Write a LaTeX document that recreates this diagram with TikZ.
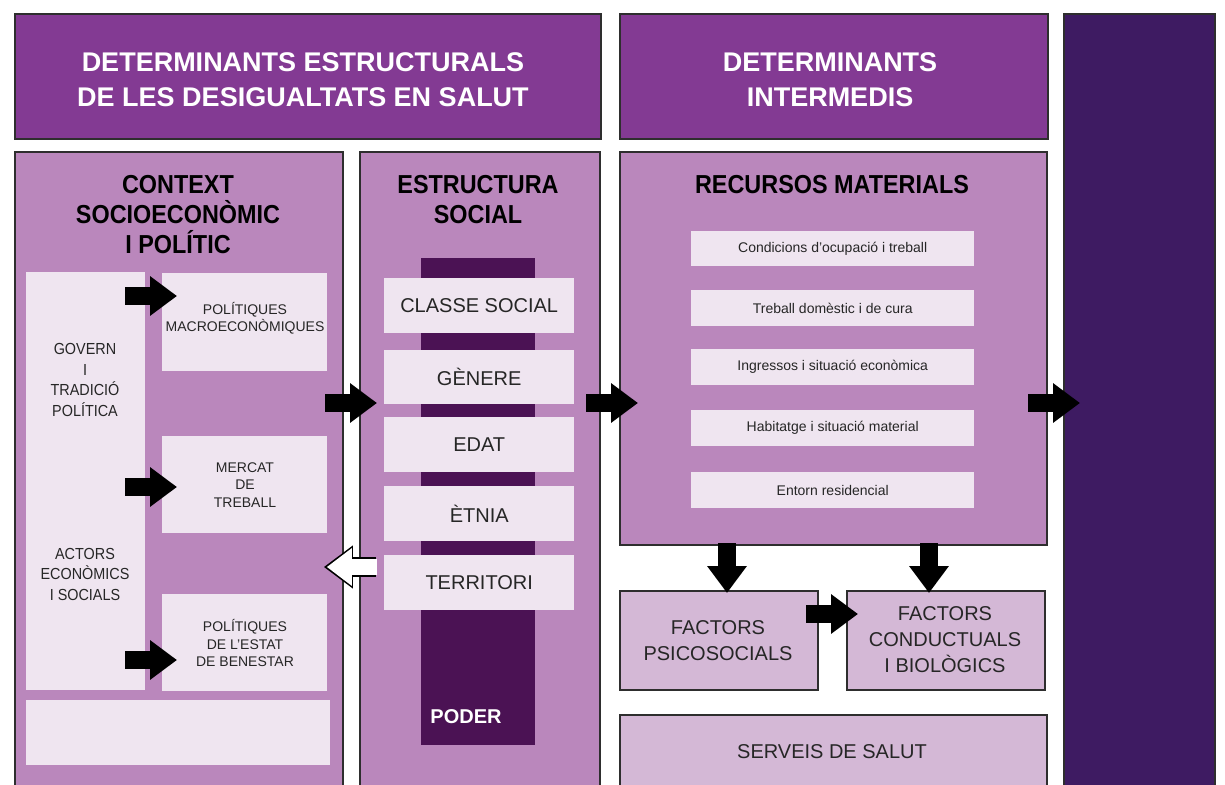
\documentclass[tikz,border=0pt]{standalone}
\usepackage{fontspec}
\setmainfont{Liberation Sans}
\newfontfamily\condf{Liberation Sans}[FakeStretch=0.9]
\usetikzlibrary{arrows.meta,calc}
\definecolor{hdr}{HTML}{833A93}
\definecolor{mid}{HTML}{BA87BC}
\definecolor{lite}{HTML}{EFE5F0}
\definecolor{barc}{HTML}{4B1254}
\definecolor{darkcol}{HTML}{3E1B62}
\definecolor{fac}{HTML}{D4B8D6}
\definecolor{bord}{HTML}{2E2E2E}
\definecolor{txt}{HTML}{262626}
\begin{document}
\begin{tikzpicture}[x=1pt,y=-1pt,
  box/.style={draw=bord, line width=1.8pt, inner sep=0pt, anchor=north west},
  lbox/.style={fill=lite, inner sep=0pt, anchor=north west},
  hdrtxt/.style={text=white, align=center, inner sep=0pt, font=\fontsize{27}{35}\selectfont\bfseries},
  subtxt/.style={text=black, align=center, inner sep=0pt, font=\condf\fontsize{26}{30}\selectfont\bfseries},
  smalltxt/.style={text=txt, align=center, inner sep=0pt, font=\fontsize{14}{17.5}\selectfont},
  sidetxt/.style={text=txt, align=center, inner sep=0pt, font=\condf\fontsize{16}{20.5}\selectfont},
  itemtxt/.style={text=txt, align=center, inner sep=0pt, font=\fontsize{20}{26}\selectfont},
  blockarrow/.style={draw=black, line width=18pt, -{Triangle[width=38pt,length=27pt]}},
  whiteouter/.style={draw=black, line width=20pt, -{Triangle[width=41pt,length=29pt]}},
  whiteinner/.style={draw=white, line width=16.5pt, -{Triangle[width=36pt,length=25pt]}}
]
\useasboundingbox (0,0) rectangle (1225,784);
\clip (0,0) rectangle (1225,784);
\fill[white] (0,0) rectangle (1225,784);

% header boxes
\node[box, fill=hdr, minimum width=586pt, minimum height=125pt] (h1) at (14,13) {};
\node[box, fill=hdr, minimum width=428pt, minimum height=125pt] (h2) at (619,13) {};
\node[box, fill=darkcol, minimum width=151pt, minimum height=800pt] (dc) at (1063,13) {};

\node[hdrtxt] (h1t) at (303,80) {DETERMINANTS ESTRUCTURALS\\DE LES DESIGUALTATS EN SALUT};
\node[hdrtxt] (h2t) at (830,80) {DETERMINANTS\\INTERMEDIS};

% context box
\node[box, fill=mid, minimum width=328pt, minimum height=700pt] (ctx) at (14,151) {};
\node[subtxt] (ctxt) at (178,215) {CONTEXT\\SOCIOECON\`OMIC\\I POL\'ITIC};
\node[lbox, minimum width=119pt, minimum height=418pt] (gov) at (26,272) {};
\node[sidetxt] (govt) at (85,380) {GOVERN\\I\\TRADICI\'O\\POL\'ITICA};
\node[sidetxt] (actt) at (85,574) {ACTORS\\ECON\`OMICS\\I SOCIALS};
\node[lbox, minimum width=165pt, minimum height=98pt] (mac) at (162,273) {};
\node[lbox, minimum width=165pt, minimum height=97pt] (mer) at (162,436) {};
\node[lbox, minimum width=165pt, minimum height=97pt] (ben) at (162,594) {};
\node[lbox, minimum width=304pt, minimum height=65pt] (emp) at (26,700) {};
\node[smalltxt] (mact) at (245,318) {POL\'ITIQUES\\MACROECON\`OMIQUES};
\node[smalltxt] (mert) at (245,485) {MERCAT\\DE\\TREBALL};
\node[smalltxt] (bent) at (245,643) {POL\'ITIQUES\\DE L'ESTAT\\DE BENESTAR};

% estructura social
\node[box, fill=mid, minimum width=240pt, minimum height=700pt] (est) at (359,151) {};
\node[subtxt] (estt) at (478,200) {ESTRUCTURA\\SOCIAL};
\node[fill=barc, inner sep=0pt, anchor=north west, minimum width=114pt, minimum height=487pt] (bar) at (421,258) {};
\node[text=white, inner sep=0pt, font=\fontsize{20}{24}\selectfont\bfseries] (pod) at (466,717) {PODER};
\node[lbox, minimum width=190pt, minimum height=55pt] (cls) at (384,278) {};
\node[lbox, minimum width=190pt, minimum height=54pt] (gen) at (384,350) {};
\node[lbox, minimum width=190pt, minimum height=55pt] (eda) at (384,417) {};
\node[lbox, minimum width=190pt, minimum height=55pt] (etn) at (384,486) {};
\node[lbox, minimum width=190pt, minimum height=55pt] (ter) at (384,555) {};
\node[itemtxt] at (cls.center) {CLASSE SOCIAL};
\node[itemtxt] at (gen.center) {G\`ENERE};
\node[itemtxt] at (eda.center) {EDAT};
\node[itemtxt] at (etn.center) {\`ETNIA};
\node[itemtxt] at (ter.center) {TERRITORI};

% recursos materials
\node[box, fill=mid, minimum width=427pt, minimum height=393pt] (rec) at (619,151) {};
\node[subtxt] (rect) at (832,185) {RECURSOS MATERIALS};
\node[lbox, minimum width=283pt, minimum height=35pt] (r1) at (691,231) {};
\node[lbox, minimum width=283pt, minimum height=36pt] (r2) at (691,290) {};
\node[lbox, minimum width=283pt, minimum height=36pt] (r3) at (691,349) {};
\node[lbox, minimum width=283pt, minimum height=36pt] (r4) at (691,410) {};
\node[lbox, minimum width=283pt, minimum height=36pt] (r5) at (691,472) {};
\node[smalltxt] at (r1.center) {Condicions d'ocupaci\'o i treball};
\node[smalltxt] at (r2.center) {Treball dom\`estic i de cura};
\node[smalltxt] at (r3.center) {Ingressos i situaci\'o econ\`omica};
\node[smalltxt] at (r4.center) {Habitatge i situaci\'o material};
\node[smalltxt] at (r5.center) {Entorn residencial};

% factors
\node[box, fill=fac, minimum width=198pt, minimum height=99pt] (psi) at (619,590) {};
\node[box, fill=fac, minimum width=198pt, minimum height=99pt] (con) at (846,590) {};
\node[box, fill=fac, minimum width=427pt, minimum height=100pt] (ser) at (619,714) {};
\node[itemtxt] (psit) at (718,641) {FACTORS\\PSICOSOCIALS};
\node[itemtxt] (cont) at (945,640) {FACTORS\\CONDUCTUALS\\I BIOL\`OGICS};
\node[itemtxt] (sert) at (832,752) {SERVEIS DE SALUT};

% arrows
\coordinate (a1s) at (125,296);
\coordinate (a2s) at (125,487);
\coordinate (a3s) at (125,660);
\coordinate (a4s) at (325,403);
\coordinate (a5s) at (586,403);
\coordinate (a6s) at (1028,403);
\coordinate (a7s) at (806,614);
\coordinate (d1s) at (727,543);
\coordinate (d2s) at (929,543);
\coordinate (ws) at (376,567);
\draw[blockarrow] (a1s) -- ([xshift=15pt]a1s -| mac.west);
\draw[blockarrow] (a2s) -- ([xshift=15pt]a2s -| mer.west);
\draw[blockarrow] (a3s) -- ([xshift=15pt]a3s -| ben.west);
\draw[blockarrow] (a4s) -- ([xshift=18pt]a4s -| est.west);
\draw[blockarrow] (a5s) -- ([xshift=19pt]a5s -| rec.west);
\draw[blockarrow] (a6s) -- ([xshift=17pt]a6s -| dc.west);
\draw[blockarrow] (a7s) -- ([xshift=12pt]a7s -| con.west);
\draw[blockarrow] (d1s) -- ([yshift=-3pt]d1s |- psi.north);
\draw[blockarrow] (d2s) -- ([yshift=-3pt]d2s |- con.north);
\draw[whiteouter] (ws) -- ([xshift=-20pt]ws -| ctx.east);
\draw[whiteinner] ([xshift=1pt]ws) -- ([xshift=-17pt]ws -| ctx.east);
\end{tikzpicture}
\end{document}
